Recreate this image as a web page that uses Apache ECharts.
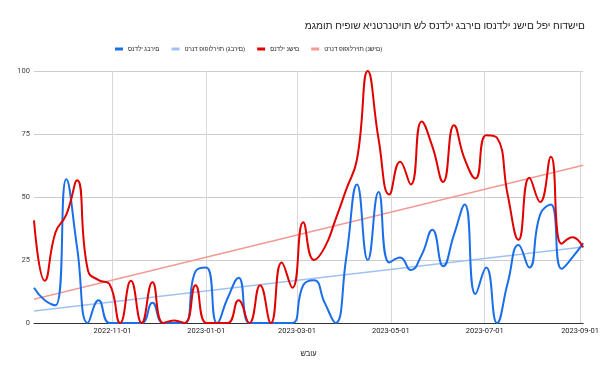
<!DOCTYPE html>
<html><head><meta charset="utf-8">
<script src="https://cdn.jsdelivr.net/npm/echarts@6/dist/echarts.min.js"></script>
<style>html,body{margin:0;padding:0;background:#fff}#c{width:602px;height:372px}</style>
</head><body><div id="c"></div>
<script>
const titleText = 'מגמות חיפוש אינטרנטיות של סנדלי גברים וסנדלי נשים לפי חודשים';
const xAxisName = 'שבוע';
const seriesNames = ['סנדלי גברים', 'טרנד פופולריות (גברים)', 'סנדלי נשים', 'טרנד פופולריות (נשים)'];

const weeks = [
  '2022-09-11','2022-09-18','2022-09-25','2022-10-02','2022-10-09','2022-10-16','2022-10-23','2022-10-30',
  '2022-11-06','2022-11-13','2022-11-20','2022-11-27','2022-12-04','2022-12-11','2022-12-18','2022-12-25',
  '2023-01-01','2023-01-08','2023-01-15','2023-01-22','2023-01-29','2023-02-05','2023-02-12','2023-02-19',
  '2023-02-26','2023-03-05','2023-03-12','2023-03-19','2023-03-26','2023-04-02','2023-04-09','2023-04-16',
  '2023-04-23','2023-04-30','2023-05-07','2023-05-14','2023-05-21','2023-05-28','2023-06-04','2023-06-11',
  '2023-06-18','2023-06-25','2023-07-02','2023-07-09','2023-07-16','2023-07-23','2023-07-30','2023-08-06',
  '2023-08-13','2023-08-20','2023-08-27','2023-09-03'
];
const menSandals = [
  14, 9, 7, 57, 30, 0, 9, 0, 0, 0, 0, 8, 0, 0, 0, 20.5,
  22, 0, 10, 18, 0, 0, 0, 0, 0, 15, 17, 8, 0, 26, 55, 25,
  52, 24, 26, 21, 27, 37, 22.5, 35, 47, 11.5, 22, 0, 16, 31,
  22, 43, 47, 21.5, 26, 31.7
];
const womenSandals = [
  40.7, 16.8, 36, 43, 56.6, 21, 17, 15.5, 0, 16.8, 0, 16.2, 0, 1, 0, 15,
  0, 0, 0, 9, 0, 15, 0, 24, 14, 40, 25, 30, 41, 53, 65, 100,
  73, 51, 64, 55, 80, 70, 56, 78.5, 65, 57.3, 74.5, 73.5, 50.7, 33,
  57.6, 48, 66, 31.4, 34, 30
];
const trendDates = ['2022-09-11', '2023-09-03'];
const menTrend = [4.8, 30.2];
const womenTrend = [9.4, 62.6];
const xTickLabels = ['2022-11-01','2023-01-01','2023-03-01','2023-05-01','2023-07-01','2023-09-01'];
const yTicks = [0, 25, 50, 75, 100];

function toTs(s) { const p = s.split('-').map(Number); return Date.UTC(p[0], p[1] - 1, p[2]); }
function pair(dates, vals) { return dates.map((d, i) => [toTs(d), vals[i]]); }
function fmt(v) {
  const d = new Date(v);
  const z = n => (n < 10 ? '0' : '') + n;
  return d.getUTCFullYear() + '-' + z(d.getUTCMonth() + 1) + '-' + z(d.getUTCDate());
}
// the reference lays Hebrew glyphs out left-to-right in logical order
const ltr = s => '\u202D' + s + '\u202C';

const FONT = 'Roboto, "Liberation Sans", Arial, sans-serif';
const BLUE = '#1a6ee8', RED = '#e00000', LBLUE = '#a0c1f6', LRED = '#f29b95';
const tickTs = xTickLabels.map(toTs);

const chart = echarts.init(document.getElementById('c'), null, { renderer: 'canvas' });
chart.setOption({
  animation: false,
  backgroundColor: '#ffffff',
  textStyle: { fontFamily: FONT },
  title: {
    text: ltr(titleText), right: 12, top: 16,
    textStyle: { fontSize: 10.2, fontWeight: 'normal', color: '#222', fontFamily: FONT }
  },
  legend: {
    data: seriesNames, left: 115, top: 46, itemWidth: 8, itemHeight: 3, itemGap: 12,
    icon: 'rect', padding: 0, formatter: ltr,
    textStyle: { fontSize: 6.2, color: '#222', fontFamily: FONT }
  },
  grid: { left: 34, right: 18, top: 71, bottom: 49 },
  xAxis: {
    type: 'value',
    min: toTs(weeks[0]), max: toTs(weeks[weeks.length - 1]),
    name: ltr(xAxisName), nameLocation: 'middle', nameGap: 27,
    nameTextStyle: { fontSize: 7.5, color: '#222', fontFamily: FONT },
    axisLine: { show: true, onZero: false, lineStyle: { color: '#333', width: 1 } },
    axisTick: { show: false, customValues: tickTs },
    axisLabel: { customValues: tickTs, formatter: fmt, fontSize: 7.5, color: '#222', margin: 4, hideOverlap: false, fontFamily: FONT },
    splitLine: { show: true, lineStyle: { color: '#d9d9d9', width: 1 } }
  },
  yAxis: {
    type: 'value', min: yTicks[0], max: yTicks[yTicks.length - 1], interval: 25,
    axisLine: { show: false }, axisTick: { show: false },
    axisLabel: { fontSize: 7.5, color: '#444', margin: 4, fontFamily: FONT },
    splitLine: { lineStyle: { color: '#cccccc', width: 1 } }
  },
  series: [
    { name: seriesNames[1], type: 'line', data: pair(trendDates, menTrend), symbol: 'none', silent: true,
      itemStyle: { color: LBLUE }, lineStyle: { color: LBLUE, width: 1.5 }, z: 2 },
    { name: seriesNames[3], type: 'line', data: pair(trendDates, womenTrend), symbol: 'none', silent: true,
      itemStyle: { color: LRED }, lineStyle: { color: LRED, width: 1.5 }, z: 2 },
    { name: seriesNames[0], type: 'line', data: pair(weeks, menSandals), smooth: 0.5, symbol: 'none',
      itemStyle: { color: BLUE }, lineStyle: { color: BLUE, width: 2 }, z: 3 },
    { name: seriesNames[2], type: 'line', data: pair(weeks, womenSandals), smooth: 0.5, symbol: 'none',
      itemStyle: { color: RED }, lineStyle: { color: RED, width: 2 }, z: 4 }
  ]
});
</script></body></html>
